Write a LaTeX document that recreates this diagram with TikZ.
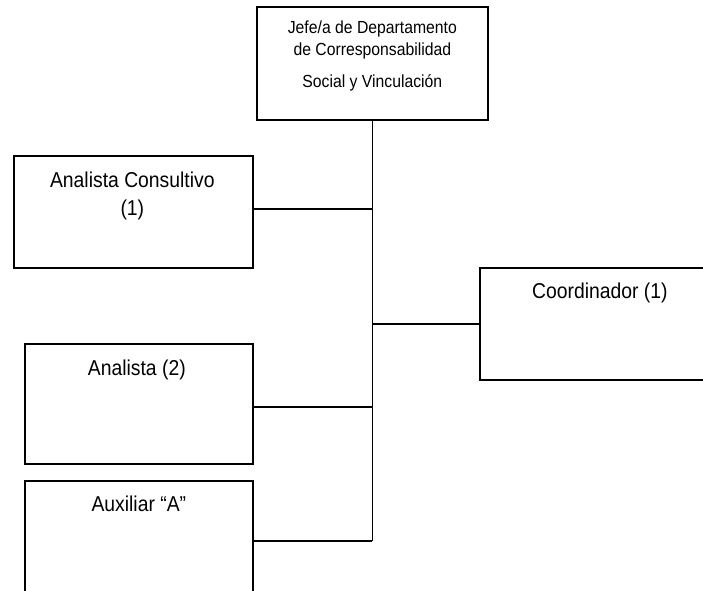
\documentclass[tikz,border=0pt]{standalone}
\usepackage{fontspec}
\setmainfont{Liberation Sans}
\newfontfamily\boxfont[FakeStretch=0.9]{Liberation Sans}
\begin{document}
\begin{tikzpicture}[x=1pt,y=-1pt,
  box/.style={draw=black,line width=1.7pt,rectangle,inner sep=0pt,anchor=north west},
  link/.style={draw=black,line width=1.6pt},
  lbl/.style={inner sep=0pt,align=center,font=\boxfont\fontsize{21.5}{28}\selectfont},
  toplbl/.style={inner sep=0pt,align=center,font=\boxfont\fontsize{17.5}{22}\selectfont}]
\useasboundingbox (0,0) rectangle (703,590);
\clip (0,0) rectangle (703,590);
\node[box,minimum width=231pt,minimum height=113pt] (jefe) at (256,6) {};
\node[box,minimum width=239pt,minimum height=112pt] (consul) at (13,155) {};
\node[box,minimum width=240pt,minimum height=112pt] (coord) at (479,267) {};
\node[box,minimum width=228pt,minimum height=120pt] (anal) at (24,343) {};
\node[box,minimum width=228pt,minimum height=120pt] (aux) at (24,480) {};
\node[toplbl,anchor=north] (jefetxt) at ([yshift=-14.5pt]jefe.north) {Jefe/a de Departamento\\de Corresponsabilidad\\[10pt]Social y Vinculación};
\node[lbl,anchor=north] (consultxt) at ([xshift=-1pt,yshift=-17pt]consul.north) {Analista Consultivo\\(1)};
\node[lbl,anchor=base] (coordtxt) at ([yshift=-31pt]coord.north) {Coordinador (1)};
\node[lbl,anchor=base] (analtxt) at ([xshift=-2pt,yshift=-32pt]anal.north) {Analista (2)};
\node[lbl,anchor=base] (auxtxt) at ([yshift=-31pt]aux.north) {Auxiliar “A”};
\coordinate (trunk) at (jefe.south |- aux.west);
\draw[link] (jefe.south) -- (trunk);
\draw[link] ([yshift=3pt]consul.east) -- ([yshift=3pt]consul.east -| jefe.south);
\draw[link] (coord.west) -- (coord.west -| jefe.south);
\draw[link] ([yshift=-3pt]anal.east) -- ([yshift=-3pt]anal.east -| jefe.south);
\draw[link] (aux.west -| aux.east) -- (trunk);
\end{tikzpicture}
\end{document}
